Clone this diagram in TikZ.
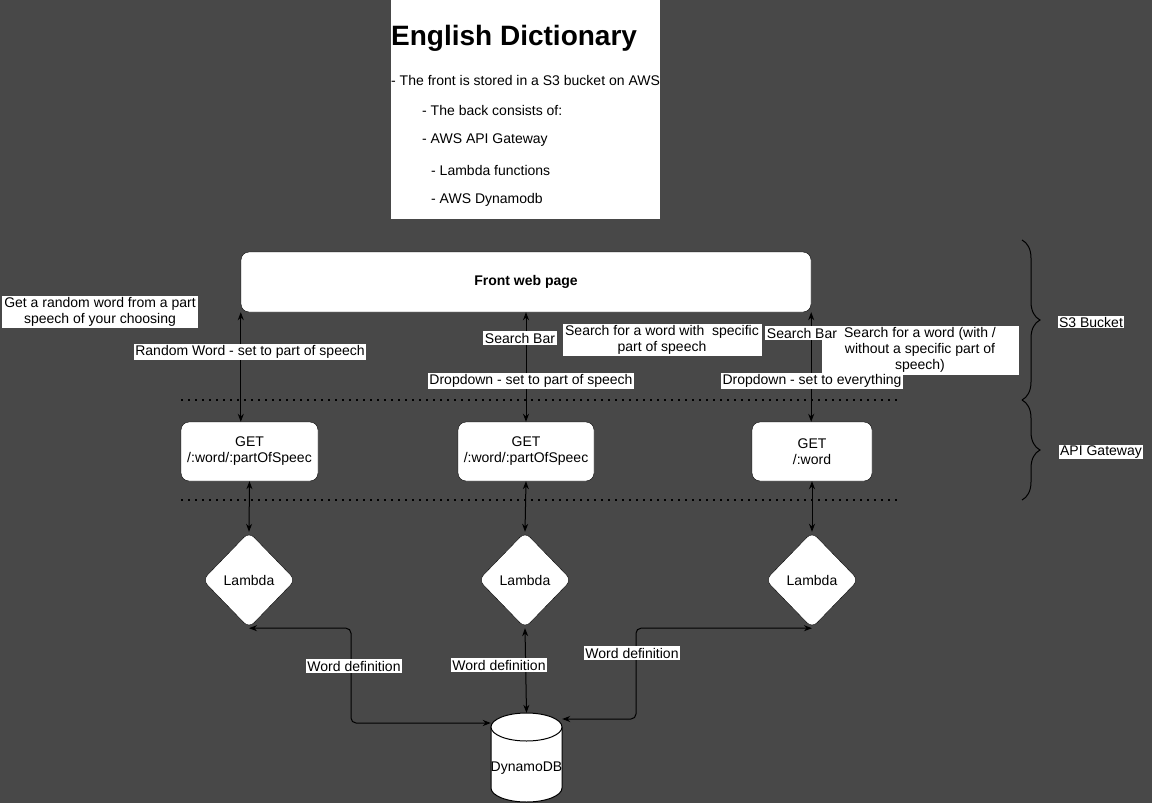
\documentclass[tikz,border=0pt]{standalone}
\usepackage{fontspec}
\setmainfont{Liberation Sans}
\usetikzlibrary{arrows.meta,shapes.geometric,decorations.pathreplacing}
\definecolor{canvas}{HTML}{484848}

\begin{document}
\begin{tikzpicture}[x=1pt,y=-1pt,
  txt/.style={font=\fontsize{14}{16}\selectfont},
  lbl/.style={txt, fill=white, inner sep=1.5pt, align=center},
  getbox/.style={txt, draw=black, fill=white, rounded corners=8pt, minimum height=59pt, align=center, inner sep=0pt},
  lambda/.style={txt, diamond, draw=black, fill=white, rounded corners=7pt, minimum width=93pt, minimum height=96pt, inner sep=0pt},
  link/.style={line width=1pt, {Stealth[length=8pt,width=6pt]}-{Stealth[length=8pt,width=6pt]}},
  layer/.style={black, line width=2pt, dash pattern=on 2pt off 5pt},
  tierbrace/.style={black, line width=1pt, decorate, decoration={brace, amplitude=18pt}}]

% Canvas
\useasboundingbox (0,0) rectangle (1152,803);
\fill[canvas] (0,0) rectangle (1152,803);

% Title box
\node (titlebox) [fill=white, minimum width=269pt, minimum height=219pt, inner sep=0pt, anchor=north west] at (391,0) {};
\node (title) [anchor=west, inner sep=0pt, font=\fontsize{28}{32}\selectfont\bfseries] at (391,38) {English Dictionary};
\node (note1) [txt, anchor=west, inner sep=0pt] at (391,80) {- The front is stored in a S3 bucket on AWS};
\node (note2) [txt, anchor=west, inner sep=0pt] at (422,110) {- The back consists of:};
\node (note3) [txt, anchor=west, inner sep=0pt] at (422,140) {- AWS API Gateway};
\node (note4) [txt, anchor=west, inner sep=0pt] at (431,170) {- Lambda functions};
\node (note5) [txt, anchor=west, inner sep=0pt] at (431,200) {- AWS Dynamodb};

% Layer separators and braces
\draw[layer] (181,400) -- (897,400);
\draw[layer] (181,500) -- (897,500);
\draw[tierbrace] (1022,240) -- (1022,400);
\draw[tierbrace] (1022,400) -- (1022,500);
\node (s3) [lbl, inner sep=1pt] at (1091,322) {S3 Bucket};
\node (apigw) [lbl, inner sep=1pt] at (1101,452) {API Gateway};

% Front
\node (front) [draw=black, fill=white, rounded corners=8pt, minimum width=570pt, minimum height=60pt, font=\fontsize{14}{16}\selectfont\bfseries] at (526,282) {Front web page};

% API Gateway endpoints
\node (get1) [getbox, minimum width=137pt] at (249.5,451.5) {GET\\/:word/:partOfSpeec};
\node (get2) [getbox, minimum width=136pt] at (526,451.5) {GET\\/:word/:partOfSpeec};
\node (get3) [getbox, minimum width=120pt] at (812,451.5) {GET\\/:word};

% Lambda functions
\node (lam1) [lambda] at (249,580) {Lambda};
\node (lam2) [lambda] at (525,580) {Lambda};
\node (lam3) [lambda] at (812,580) {Lambda};

% Database (cylinder drawn by hand)
\node (db) [minimum width=71pt, minimum height=89pt, inner sep=0pt] at (526.5,757.5) {};
\filldraw[fill=white, draw=black, line width=1pt] (491,727) -- (491,788)
  .. controls (491,795.7) and (506.9,802) .. (526.5,802)
  .. controls (546.1,802) and (562,795.7) .. (562,788) -- (562,727);
\filldraw[fill=white, draw=black, line width=1pt] (526.5,727) ellipse [x radius=35.5pt, y radius=14pt];
\node (dbname) [txt, inner sep=0pt] at (526.5,768) {DynamoDB};

% Front to endpoints
\draw[link] (front.south west) -- (front.south west |- get1.north);
\draw[link] (front.south) -- (get2.north);
\draw[link] (front.south east) -- (front.south east |- get3.north);

% Endpoints to lambdas
\draw[link] (get1.south) -- (lam1.north);
\draw[link] (get2.south) -- (lam2.north);
\draw[link] (get3.south) -- (lam3.north);

% Lambdas to database
\coordinate (wd1) at (351,723);
\coordinate (wd3) at (636,719);
\draw[link, rounded corners=5pt] (lam1.south) -| (wd1) -- (db.west |- wd1);
\draw[link] (lam2.south) -- (db.north);
\draw[link, rounded corners=5pt] (lam3.south) -| (wd3) -- (db.east |- wd3);

% Connector labels
\node (rndq) [lbl, minimum width=196pt] at (100,312) {Get a random word from a part\\speech of your choosing};
\node (rndlbl) [lbl] at (250,352) {Random Word - set to part of speech};
\node (sb2) [lbl] at (520,338) {Search Bar};
\node (dd2) [lbl] at (531,381) {Dropdown - set to part of speech};
\node (sq2) [lbl, minimum width=199pt] at (662,340) {Search for a word with\ \ specific\\part of speech};
\node (sq3) [lbl, minimum width=197pt, minimum height=49pt] at (920,350) {Search for a word (with /\\without a specific part of\\speech)};
\node (sb3) [lbl] at (802,333) {Search Bar};
\node (dd3) [lbl] at (812,381) {Dropdown - set to everything};
\node (wdl1) [lbl] at (354,666) {Word definition};
\node (wdl2) [lbl] at (499,665) {Word definition};
\node (wdl3) [lbl] at (632,653) {Word definition};

\end{tikzpicture}
\end{document}
